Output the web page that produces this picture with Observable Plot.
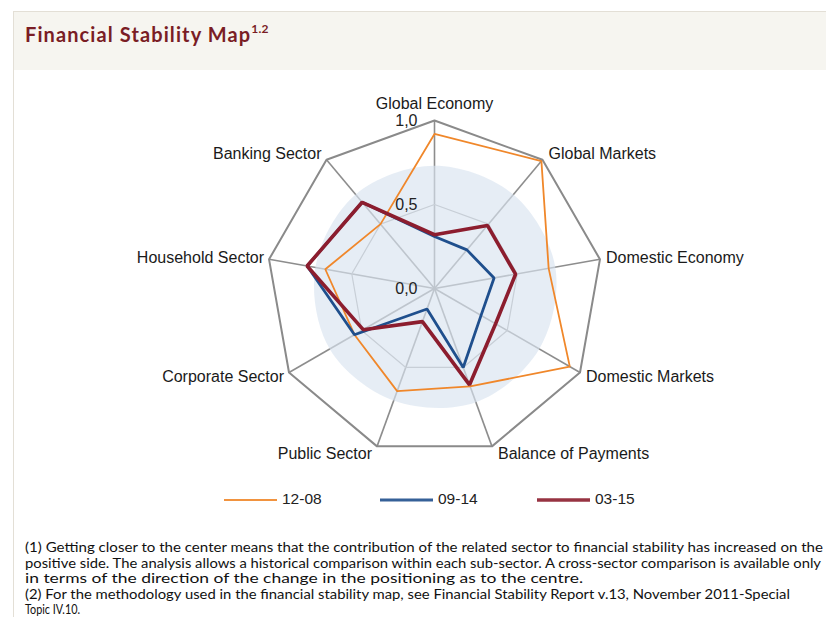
<!DOCTYPE html>
<html>
<head>
<meta charset="utf-8">
<script src="https://cdn.jsdelivr.net/npm/d3@7"></script>
<script src="https://cdn.jsdelivr.net/npm/@observablehq/plot@0.6"></script>
<style>
  html, body { margin: 0; padding: 0; background: #fff; }
  body { width: 826px; height: 617px; position: relative; overflow: hidden; font-family: "Liberation Sans", Arial, sans-serif; }
  #frame { position: absolute; left: 13px; top: 11px; width: 813px; height: 606px; border-left: 1px solid #e3dfd6; border-top: 1px solid #e3dfd6; }
  #band { position: absolute; left: 14px; top: 12px; width: 812px; height: 58px; background: #f6f5f0; }
  #title { position: absolute; left: 25px; top: 22px; font-family: Lato, "Open Sans", sans-serif; font-weight: 700; font-size: 20px; color: #7a1d25; letter-spacing: 1.1px; white-space: nowrap; }
  #title sup { font-size: 12px; position: relative; top: -1px; letter-spacing: 0.3px; }
  #chart { position: absolute; left: 0; top: 80px; }
  #legend { position: absolute; left: 0; top: 488px; }
  #notes { position: absolute; left: 0; top: 536px; }
</style>
</head>
<body>
<div id="frame"></div>
<div id="band"></div>
<div id="title">Financial Stability Map<sup>1.2</sup></div>
<div id="chart"></div>
<div id="legend"></div>
<div id="notes"></div>
<script>
// ---- data ----
const axes = ["Global Economy", "Global Markets", "Domestic Economy", "Domestic Markets", "Balance of Payments", "Public Sector", "Corporate Sector", "Household Sector", "Banking Sector"];
const seriesNames = ["12-08", "09-14", "03-15"];
const values1208 = [0.92, 0.99, 0.69, 0.93, 0.62, 0.65, 0.55, 0.66, 0.50];
const values0914 = [0.31, 0.30, 0.36, 0.32, 0.50, 0.13, 0.55, 0.77, 0.67];
const values0315 = [0.32, 0.49, 0.49, 0.42, 0.61, 0.21, 0.49, 0.77, 0.67];
const bandValues = [0.73, 0.73, 0.73, 0.72, 0.72, 0.71, 0.72, 0.72, 0.73];
const tickValues = [0, 0.5, 1.0];
const tickLabels = ["0,0", "0,5", "1,0"];
const footnotes = [
  "(1) Getting closer to the center means that the contribution of the related sector to financial stability has increased on the",
  "positive side. The analysis allows a historical comparison within each sub-sector. A cross-sector comparison is available only",
  "in terms of the direction of the change in the positioning as to the centre.",
  "(2) For the methodology used in the financial stability map, see Financial Stability Report v.13, November 2011-Special",
  "Topic IV.10."
];

// ---- style ----
const colors = {"12-08": "#f0872a", "09-14": "#1f4f8d", "03-15": "#8c1d2e"};
const widths = {"12-08": 1.8, "09-14": 2.8, "03-15": 3.6};

// ---- geometry helpers (polar -> cartesian in data units) ----
const n = axes.length;
const ang = i => (2 * Math.PI * i) / n;
const px = (i, r) => r * Math.sin(ang(i));
const py = (i, r) => r * Math.cos(ang(i));

const rows = [];
[values1208, values0914, values0315].forEach((vals, k) => {
  vals.forEach((v, i) => rows.push({series: seriesNames[k], axis: axes[i], i, x: px(i, v), y: py(i, v)}));
});
const band = bandValues.map((v, i) => ({x: px(i, v), y: py(i, v)}));
const rings = tickValues.filter(t => t > 0).flatMap(t => axes.map((a, i) => ({ring: t, x: px(i, t), y: py(i, t)})));
const spokes = axes.map((a, i) => ({x1: 0, y1: 0, x2: px(i, 1), y2: py(i, 1)}));
const labels = axes.map((a, i) => {
  const s = Math.sin(ang(i)), c = Math.cos(ang(i));
  return {
    label: a, x: px(i, 1), y: py(i, 1),
    anchor: Math.abs(s) < 0.1 ? "middle" : (s > 0 ? "start" : "end"),
    dx: Math.abs(s) < 0.1 ? 0 : (s > 0 ? 6 : -5),
    dy: -c * 8 - (Math.abs(s) < 0.1 ? 9 : 0)
  };
});
const ticks = tickValues.map((t, k) => ({x: 0, y: t, label: tickLabels[k]}));

// ---- plot ----
const W = 826, H = 430, cx = 434, cy = 208, R = 168;
const font = "Liberation Sans, Arial, sans-serif";
const labelMarks = ["start", "middle", "end"].map(a =>
  Plot.text(labels.filter(d => d.anchor === a), {
    x: "x", y: "y", text: "label", textAnchor: a, fontSize: 16, fill: "#1a1a1a", fontFamily: font,
    dx: labels.find(d => d.anchor === a).dx, dy: 0
  })
);
const chart = Plot.plot({
  width: W, height: H, margin: 0,
  x: {domain: [-cx / R, (W - cx) / R], range: [0, W], axis: null},
  y: {domain: [-(H - cy) / R, cy / R], range: [H, 0], axis: null},
  style: {background: "transparent", overflow: "visible"},
  marks: [
    Plot.link(spokes, {x1: "x1", y1: "y1", x2: "x2", y2: "y2", stroke: "#8d8d8d", strokeWidth: 1.6}),
    Plot.line(rings.filter(d => d.ring === 0.5), {x: "x", y: "y", curve: "linear-closed", stroke: "#a8a8a8", strokeWidth: 1.2}),
    Plot.line(rings.filter(d => d.ring === 1), {x: "x", y: "y", curve: "linear-closed", stroke: "#8a8a8a", strokeWidth: 2}),
    Plot.line(band, {x: "x", y: "y", curve: "catmull-rom-closed", fill: "#d9e3ef", fillOpacity: 0.65, stroke: "none"}),
    Plot.line(rows, {x: "x", y: "y", z: "series", stroke: d => colors[d.series], strokeWidth: d => widths[d.series], curve: "linear-closed", strokeLinejoin: "miter"}),
    Plot.text(ticks, {x: "x", y: "y", text: "label", textAnchor: "end", dx: -17, fontSize: 16, fill: "#222", fontFamily: font}),
    ...labelMarks
  ]
});
document.getElementById("chart").appendChild(chart);
// vertical offsets of axis labels (depend on each label's angle)
d3.select(chart).selectAll("g[aria-label='text']").filter((d, k) => k > 0).selectAll("text").each(function () {
  const t = d3.select(this);
  const lab = labels.find(l => l.label === this.textContent);
  if (lab) t.attr("dy", (lab.dy).toFixed(1));
});

// ---- legend ----
const legendX = [224, 380, 537];
const lg = d3.select("#legend").append("svg").attr("width", 826).attr("height", 24);
seriesNames.forEach((s, k) => {
  lg.append("line").attr("x1", legendX[k]).attr("x2", legendX[k] + 53).attr("y1", 12).attr("y2", 12)
    .attr("stroke", colors[s]).attr("stroke-width", widths[s]).attr("stroke-opacity", 0.9);
  lg.append("text").attr("x", legendX[k] + 58).attr("y", 12).attr("dominant-baseline", "middle")
    .attr("font-family", font).attr("font-size", 15.5).attr("fill", "#222").text(s);
});

// ---- footnotes (line widths as in the reference) ----
const noteWidths = [798, 796, 558, 765, 55];
const ns = d3.select("#notes").append("svg").attr("width", 826).attr("height", 85);
footnotes.forEach((line, k) => {
  ns.append("text").attr("x", 25).attr("y", 16 + k * 15.5)
    .attr("font-family", "Lato, 'Open Sans', sans-serif").attr("font-size", 13).attr("fill", "#111")
    .attr("textLength", noteWidths[k]).attr("lengthAdjust", "spacingAndGlyphs")
    .text(line);
});
</script>
</body>
</html>
